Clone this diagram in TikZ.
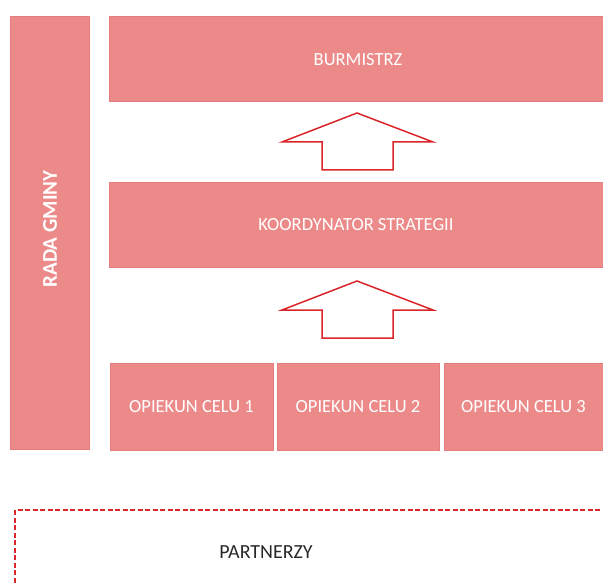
\documentclass[tikz,border=0pt]{standalone}
\usepackage{fontspec}
\setmainfont{Carlito}
\definecolor{boxfill}{RGB}{236,138,138}
\definecolor{boxedge}{RGB}{228,125,125}
\definecolor{arrowred}{RGB}{218,38,42}
\definecolor{textgray}{RGB}{40,40,40}
\begin{document}
\begin{tikzpicture}[x=1pt,y=-1pt,
  pinkbox/.style={fill=boxfill,draw=boxedge,line width=0.8pt},
  boxtext/.style={text=white,font=\fontsize{18.5}{20}\selectfont},
  uparrow/.style={draw=arrowred,fill=white,line width=1.5pt,line join=miter}]
\useasboundingbox (0,0) rectangle (603,583);
% boxes
\draw[pinkbox] (10,16) rectangle (89,449);
\draw[pinkbox] (109,16) rectangle (603,101);
\draw[pinkbox] (109,182) rectangle (603,267);
\draw[pinkbox] (110,363) rectangle (273,450);
\draw[pinkbox] (277,363) rectangle (439,450);
\draw[pinkbox] (444,363) rectangle (603,450);
% labels
\node[text=white,rotate=90,font=\bfseries\fontsize{21}{23}\selectfont] (rada) at (50,229) {RADA GMINY};
\node[boxtext] (burm) at (358,60) {BURMISTRZ};
\node[boxtext] (koord) at (356,225) {KOORDYNATOR STRATEGII};
\node[boxtext] (op1) at (191.5,407) {OPIEKUN CELU 1};
\node[boxtext] (op2) at (358,407) {OPIEKUN CELU 2};
\node[boxtext] (op3) at (523.5,407) {OPIEKUN CELU 3};
% arrows
\draw[uparrow] (357,113) -- (433,142) -- (393,142) -- (393,170) -- (322,170) -- (322,142) -- (282,142) -- cycle;
\draw[uparrow] (357,281) -- (433,310) -- (393,310) -- (393,338) -- (322,338) -- (322,310) -- (282,310) -- cycle;
% partners
\draw[arrowred,line width=1.3pt,dash pattern=on 5pt off 2.5pt] (15,590) -- (15,510) -- (610,510);
\node[text=textgray,font=\fontsize{20}{22}\selectfont] (partn) at (266,552) {PARTNERZY};
\end{tikzpicture}
\end{document}
